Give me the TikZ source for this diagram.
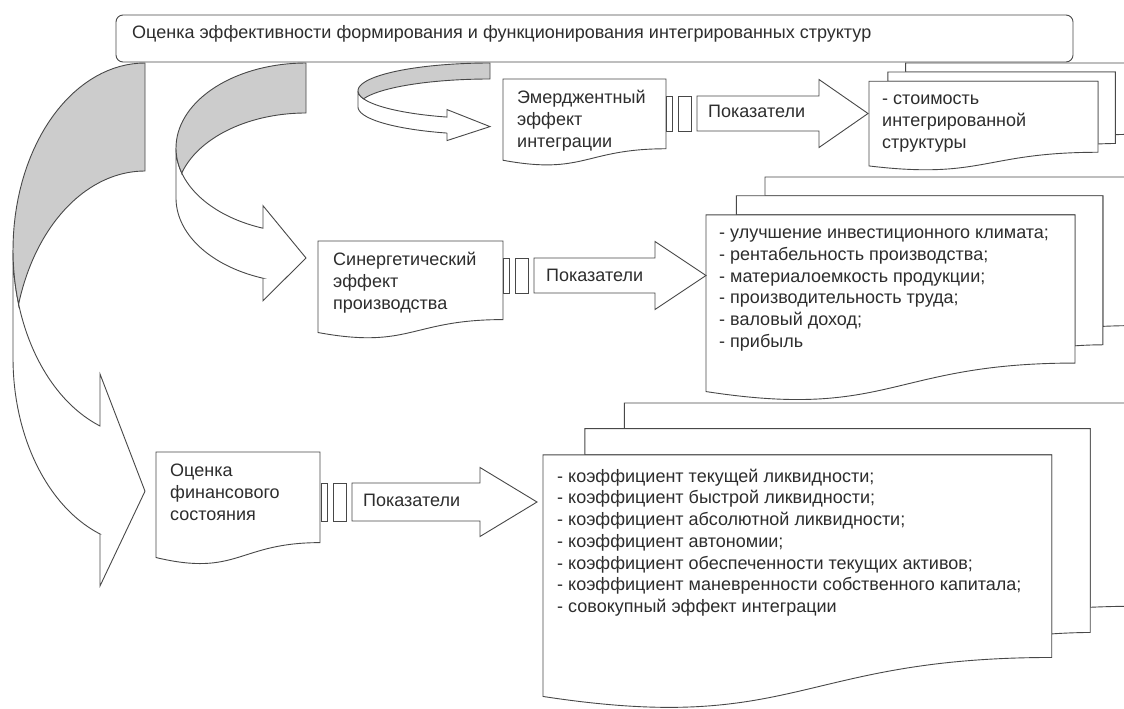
\documentclass[tikz,border=0pt]{standalone}
\usepackage{fontspec}
\setmainfont{Liberation Sans}
\definecolor{ln}{RGB}{72,72,72}
\definecolor{shd}{RGB}{204,204,204}
\definecolor{tx}{RGB}{45,45,45}
\tikzset{
  shapeline/.style={draw=ln, line width=0.9pt, line join=miter},
  boxtext/.style={anchor=north west, align=left, inner sep=0pt, text=tx,
     font=\fontsize{18}{21.7}\selectfont},
  labeltext/.style={anchor=base west, inner sep=0pt, text=tx,
     font=\fontsize{18}{21.7}\selectfont},
}
% flowchart document shape: x y w h
\newcommand{\docbox}[4]{%
  \draw[shapeline, fill=white] (#1,#2) -- ({#1+#3},#2) -- ({#1+#3},{#2+0.80194*#4})
    .. controls ({#1+0.5*#3},{#2+0.80194*#4}) and ({#1+0.5*#3},{#2+1.10750*#4}) .. (#1,{#2+0.93389*#4}) -- cycle;}
% multidocument shape: L T W H
\newcommand{\multidoc}[4]{%
  \draw[shapeline, fill=white] ({#1+0.13759*#3},{#2+0.08403*#4}) -- ({#1+0.13759*#3},#2) -- ({#1+#3},#2)
    -- ({#1+#3},{#2+0.66630*#4})
    .. controls ({#1+0.96296*#3},{#2+0.66630*#4}) and ({#1+0.92593*#3},{#2+0.66977*#4}) .. ({#1+0.92593*#3},{#2+0.66977*#4})
    -- ({#1+0.92593*#3},{#2+0.08403*#4}) -- cycle;
  \draw[shapeline, fill=white] ({#1+0.07093*#3},{#2+0.17014*#4}) -- ({#1+0.07093*#3},{#2+0.08403*#4}) -- ({#1+0.92593*#3},{#2+0.08403*#4})
    -- ({#1+0.92593*#3},{#2+0.75241*#4})
    .. controls ({#1+0.89343*#3},{#2+0.75241*#4}) and ({#1+0.86088*#3},{#2+0.75704*#4}) .. ({#1+0.86088*#3},{#2+0.75704*#4})
    -- ({#1+0.86088*#3},{#2+0.17014*#4}) -- cycle;
  \draw[shapeline, fill=white] (#1,{#2+0.96213*#4})
    .. controls ({#1+0.43046*#3},{#2+1.08991*#4}) and ({#1+0.43046*#3},{#2+0.83435*#4}) .. ({#1+0.86088*#3},{#2+0.83435*#4})
    -- ({#1+0.86088*#3},{#2+0.17014*#4}) -- (#1,{#2+0.17014*#4}) -- cycle;}
% curved right arrow: r t w hR th ah aw
\newcommand{\curvarrow}[7]{%
  \begingroup
  \pgfmathsetmacro{\cR}{#1}\pgfmathsetmacro{\cT}{#2}\pgfmathsetmacro{\cW}{#3}%
  \pgfmathsetmacro{\cH}{#4}\pgfmathsetmacro{\cK}{#5}\pgfmathsetmacro{\cA}{#6}\pgfmathsetmacro{\cB}{#7}%
  \pgfmathsetmacro{\cYa}{\cT+\cH}%
  \pgfmathsetmacro{\cYb}{\cT+\cH+\cK}%
  \pgfmathsetmacro{\cTh}{acos(-\cA/\cW)}%
  \pgfmathsetmacro{\cS}{sin(\cTh)}%
  \pgfmathsetmacro{\cXa}{\cR-\cA}%
  \pgfmathsetmacro{\cYv}{\cYa+\cH*\cS}%
  \pgfmathsetmacro{\cYw}{\cYb+\cH*\cS}%
  \pgfmathsetmacro{\cD}{(\cB-\cK)/2}%
  \pgfmathsetmacro{\cTip}{\cT+2*\cH+\cK/2}%
  \pgfmathsetmacro{\cAl}{asin(\cK/(2*\cH))}%
  \pgfmathsetmacro{\cAa}{180+\cAl}%
  \pgfmathsetmacro{\cAb}{180-\cAl}%
  \draw[shapeline, fill=white]
     plot[domain=180:\cTh, samples=40, variable=\x] ({\cR+\cW*cos(\x)},{\cYa+\cH*sin(\x)})
     -- (\cXa,{\cYv-\cD}) -- (\cR,\cTip) -- (\cXa,{\cYw+\cD}) -- (\cXa,\cYw)
     -- plot[domain=\cTh:180, samples=40, variable=\x] ({\cR+\cW*cos(\x)},{\cYb+\cH*sin(\x)}) -- cycle;
  \draw[shapeline, fill=shd]
     plot[domain=270:\cAa, samples=40, variable=\x] ({\cR+\cW*cos(\x)},{\cYb+\cH*sin(\x)})
     -- plot[domain=\cAb:270, samples=40, variable=\x] ({\cR+\cW*cos(\x)},{\cYa+\cH*sin(\x)}) -- cycle;
  \endgroup}
% striped right arrow: x0 xb tip yc bh hh
\newcommand{\stripearrow}[6]{%
  \draw[shapeline, fill=white] ({#1-31},{#4-#5}) rectangle ({#1-25},{#4+#5});
  \draw[shapeline, fill=white] ({#1-19},{#4-#5}) rectangle ({#1-6},{#4+#5});
  \draw[shapeline, fill=white] (#1,{#4-#5}) -- (#2,{#4-#5}) -- (#2,{#4-#6}) -- (#3,#4)
    -- (#2,{#4+#6}) -- (#2,{#4+#5}) -- (#1,{#4+#5}) -- cycle;}
\newcommand{\strutrule}{\rule{0pt}{16pt}}
\begin{document}
\begin{tikzpicture}[x=1pt,y=-1pt]
\useasboundingbox (0,0) rectangle (1124,709);
\clip (0,0) rectangle (1124,709);
\fill[white] (0,0) rectangle (1124,709);
% curved arrows from the title
\curvarrow{145}{63}{132}{187.1}{108}{45}{212}
\curvarrow{306}{63}{130}{85}{50}{43}{95}
\curvarrow{490}{63}{132}{27.8}{16}{43}{31}
% title box
\draw[shapeline, fill=white, rounded corners=7pt] (116,15) rectangle (1073,62);
\node[labeltext] (title) at (132,39) {Оценка эффективности формирования и функционирования интегрированных структур};
% documents
\docbox{503}{79}{163}{87}
\docbox{318}{241}{185}{98}
\docbox{156}{452}{164}{113}
\multidoc{869}{63}{266}{107}
\multidoc{706}{177}{428.6}{223}
\multidoc{543}{403}{591}{305}
% striped arrows
\stripearrow{697}{819}{868}{113.5}{17.5}{34}
\stripearrow{534}{655}{706}{275.5}{17.5}{34}
\stripearrow{352}{480}{537}{502}{19}{34.5}
% texts
\node[boxtext] (emerg) at (517,87.5) {\strutrule Эмерджентный\\эффект\\интеграции};
\node[boxtext] (synerg) at (333,249.5) {\strutrule Синергетический\\эффект\\производства};
\node[boxtext] (finan) at (170,460.5) {\strutrule Оценка\\финансового\\состояния};
\node[labeltext] (pok1) at (708,117) {Показатели};
\node[labeltext] (pok2) at (546,281) {Показатели};
\node[labeltext] (pok3) at (363,506) {Показатели};
\node[boxtext] (list1) at (882,88.5) {\strutrule - стоимость\\интегрированной\\структуры};
\node[boxtext] (list2) at (719,222.5) {\strutrule - улучшение инвестиционного климата;\\- рентабельность производства;\\- материалоемкость продукции;\\- производительность труда;\\- валовый доход;\\- прибыль};
\node[boxtext] (list3) at (557,466) {\strutrule - коэффициент текущей ликвидности;\\- коэффициент быстрой ликвидности;\\- коэффициент абсолютной ликвидности;\\- коэффициент автономии;\\- коэффициент обеспеченности текущих активов;\\- коэффициент маневренности собственного капитала;\\- совокупный эффект интеграции};
\end{tikzpicture}
\end{document}
